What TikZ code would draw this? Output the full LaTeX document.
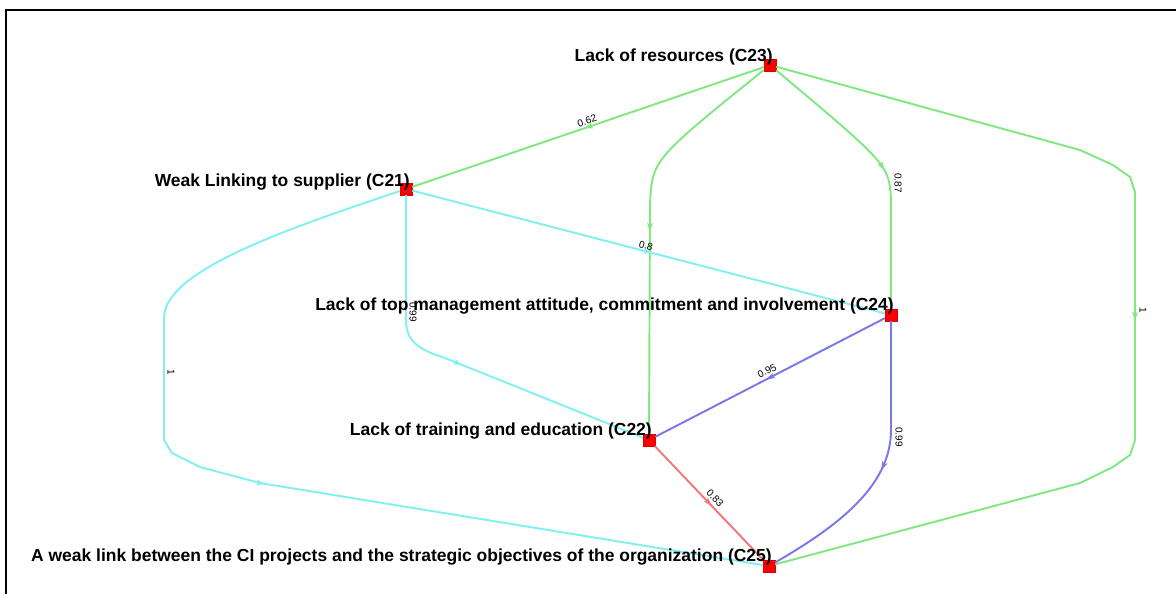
\documentclass[tikz,border=0pt]{standalone}
\usepackage{fontspec}
\setmainfont{Liberation Sans}
\usetikzlibrary{decorations.markings}
\definecolor{edgegreen}{RGB}{128,232,128}
\definecolor{edgecyan}{RGB}{128,240,240}
\definecolor{edgeblue}{RGB}{120,120,232}
\definecolor{edgered}{RGB}{240,120,120}
\definecolor{nodered}{RGB}{255,0,0}
\begin{document}
\begin{tikzpicture}[x=0.75pt,y=-0.75pt,
  concept/.style={rectangle, fill=nodered, draw=red!85!black, line width=0.3pt,
    minimum size=9pt, inner sep=0pt},
  conceptlabel/.style={font=\bfseries\fontsize{13.1}{15}\selectfont, anchor=base east,
    inner sep=0pt},
  link/.style={line width=1.45pt, postaction={decorate},
    decoration={markings, mark=at position 0.5 with
      {\fill (3pt,0pt) -- (-3.5pt,2.2pt) -- (-2pt,0pt) -- (-3.5pt,-2.2pt) -- cycle;}}},
  weight/.style={font=\fontsize{7.5}{9}\selectfont, inner sep=1pt}]
\useasboundingbox (0,0) rectangle (1176,594);

% frame
\draw[line width=1.5pt] (6,594) -- (6,10) -- (1176,10);

% concepts
\node[concept] (c23) at (770,65) {};
\node[concept] (c21) at (406,189) {};
\node[concept] (c24) at (891,315) {};
\node[concept] (c22) at (649,440) {};
\node[concept] (c25) at (769,566) {};

% links from C23
\draw[link, edgegreen] (c23) -- (c21);
\node[weight, rotate=19] (w1) at (587,121) {0.62};
\draw[link, edgegreen] (c23) .. controls (652,160) .. (650,205) -- (c22);
\draw[link, edgegreen] (c23) .. controls (889,165) .. (891,200) -- (c24);
\node[weight, rotate=-90] (w2) at (898,183) {0.87};
\draw[link, edgegreen] (c23) -- (1080,150) -- (1113,165) -- (1130,177) -- (1135,192)
  -- (1135,440) -- (1130,455) -- (1113,467) -- (1080,483) -- (c25);
\node[weight, rotate=-90] (w3) at (1143,310) {1};

% links from C21
\draw[link, edgecyan] (c21) -- (c24);
\node[weight, rotate=-14.6] (w4) at (646,246) {0.8};
\draw[link, edgecyan] (c21) -- (406,320) .. controls (406,342) and (420,350) .. (445,358) -- (c22);
\node[weight, rotate=-90] (w5) at (413,312) {0.99};
\draw[link, edgecyan] (c21) .. controls (290,228) and (164,270) .. (164,318)
  -- (164,440) -- (172,453) -- (200,467) -- (260,483) -- (c25);
\node[weight, rotate=-90] (w6) at (171,372) {1};

% links from C24
\draw[link, edgeblue] (c24) -- (c22);
\node[weight, rotate=27.3] (w7) at (767,371) {0.95};
\draw[link, edgeblue] (c24) -- (891,430) .. controls (891,485) and (840,525) .. (c25);
\node[weight, rotate=-90] (w8) at (899,437) {0.99};

% link from C22
\draw[link, edgered] (c22) -- (c25);
\node[weight, rotate=-46.4] (w9) at (715,498) {0.83};

% concept labels
\node[conceptlabel] (l23) at (773,61) {Lack of resources (C23)};
\node[conceptlabel] (l21) at (410,186) {Weak Linking to supplier (C21)};
\node[conceptlabel] (l24) at (894,310) {Lack of top management attitude, commitment and involvement (C24)};
\node[conceptlabel] (l22) at (652,435) {Lack of training and education (C22)};
\node[conceptlabel] (l25) at (772,561) {A weak link between the CI projects and the strategic objectives of the organization (C25)};
\end{tikzpicture}
\end{document}
